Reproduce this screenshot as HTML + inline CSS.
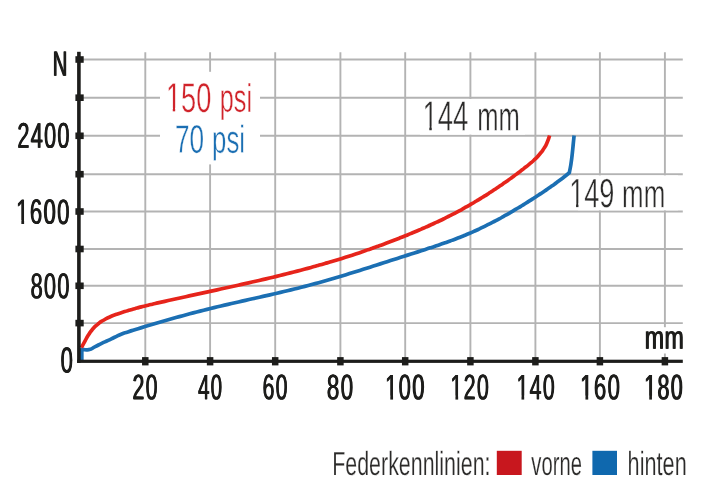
<!DOCTYPE html>
<html><head><meta charset="utf-8"><title>Federkennlinien</title>
<style>html,body{margin:0;padding:0;background:#fff}svg{display:block}text{font-family:"Liberation Sans",sans-serif;text-rendering:geometricPrecision}</style>
</head><body>
<svg width="712" height="499" viewBox="0 0 712 499">
<rect x="0" y="0" width="712" height="499" fill="#ffffff"/>
<g stroke="#b3b3b3" stroke-width="1.9" fill="none">
<line x1="145.3" y1="52.2" x2="145.3" y2="361.3"/>
<line x1="210.1" y1="52.2" x2="210.1" y2="361.3"/>
<line x1="275.2" y1="52.2" x2="275.2" y2="361.3"/>
<line x1="340.4" y1="52.2" x2="340.4" y2="361.3"/>
<line x1="405.2" y1="52.2" x2="405.2" y2="361.3"/>
<line x1="470.4" y1="52.2" x2="470.4" y2="361.3"/>
<line x1="535.4" y1="52.2" x2="535.4" y2="361.3"/>
<line x1="599.9" y1="52.2" x2="599.9" y2="361.3"/>
<line x1="664.9" y1="52.2" x2="664.9" y2="361.3"/>
<line x1="80" y1="59.5" x2="682.8" y2="59.5"/>
<line x1="80" y1="97.7" x2="682.8" y2="97.7"/>
<line x1="80" y1="135.8" x2="682.8" y2="135.8"/>
<line x1="80" y1="174.2" x2="682.8" y2="174.2"/>
<line x1="80" y1="211.5" x2="682.8" y2="211.5"/>
<line x1="80" y1="249.0" x2="682.8" y2="249.0"/>
<line x1="80" y1="285.8" x2="682.8" y2="285.8"/>
<line x1="80" y1="323.1" x2="682.8" y2="323.1"/>
</g>
<g fill="#ffffff">
<rect x="160" y="71.8" width="100" height="92.6"/>
<rect x="420" y="99" width="105" height="35.6"/>
<rect x="578" y="175.4" width="100" height="34.9"/>
<rect x="640" y="327.2" width="46" height="26.3"/>
</g>
<path d="M81.80,361.30 C81.80,357.23 81.80,353.17 81.80,349.10 C84.11,349.27 84.26,350.46 88.74,349.61 C93.22,348.77 90.93,348.63 95.24,346.56 C99.56,344.49 97.38,345.45 101.69,343.41 C106.00,341.36 103.86,342.47 108.17,340.42 C112.48,338.38 110.30,339.32 114.62,337.28 C118.95,335.24 116.73,336.10 121.15,334.31 C125.57,332.52 123.37,333.43 127.89,331.91 C132.42,330.38 130.16,331.16 134.72,329.73 C139.28,328.31 137.00,329.02 141.57,327.62 C146.14,326.23 143.86,326.92 148.43,325.55 C153.01,324.18 150.72,324.86 155.30,323.51 C159.88,322.16 157.59,322.83 162.17,321.50 C166.76,320.17 164.46,320.83 169.05,319.52 C173.65,318.22 171.35,318.86 175.95,317.59 C180.54,316.31 178.24,316.94 182.85,315.68 C187.45,314.43 185.15,315.05 189.76,313.82 C194.37,312.60 192.06,313.20 196.68,312.00 C201.30,310.81 198.99,311.40 203.62,310.23 C208.24,309.06 205.93,309.64 210.56,308.50 C215.20,307.36 212.88,307.92 217.53,306.81 C222.17,305.70 219.85,306.25 224.50,305.16 C229.15,304.07 226.83,304.61 231.49,303.54 C236.14,302.47 233.81,303.00 238.48,301.94 C243.14,300.88 240.81,301.41 245.47,300.36 C250.14,299.30 247.80,299.83 252.47,298.78 C257.13,297.73 254.80,298.26 259.47,297.21 C264.13,296.15 261.80,296.68 266.46,295.62 C271.12,294.56 268.79,295.09 273.45,294.02 C278.11,292.94 275.78,293.49 280.44,292.39 C285.09,291.30 282.76,291.85 287.41,290.74 C292.06,289.62 289.74,290.19 294.37,289.04 C299.01,287.89 296.69,288.48 301.32,287.30 C305.95,286.12 303.64,286.72 308.25,285.50 C312.87,284.28 310.56,284.90 315.17,283.64 C319.77,282.38 317.47,283.02 322.06,281.72 C326.66,280.43 324.36,281.08 328.94,279.76 C333.53,278.43 331.24,279.10 335.81,277.74 C340.39,276.39 338.10,277.07 342.67,275.69 C347.24,274.30 344.95,275.00 349.52,273.60 C354.08,272.19 351.80,272.90 356.35,271.47 C360.91,270.05 358.63,270.76 363.19,269.33 C367.74,267.89 365.46,268.61 370.02,267.16 C374.57,265.71 372.29,266.44 376.84,264.98 C381.39,263.52 379.12,264.25 383.67,262.79 C388.22,261.33 385.94,262.06 390.50,260.60 C395.05,259.14 392.77,259.87 397.33,258.41 C401.88,256.95 399.60,257.68 404.16,256.22 C408.72,254.77 406.44,255.50 411.00,254.05 C415.56,252.60 413.29,253.33 417.84,251.88 C422.40,250.42 420.13,251.16 424.68,249.68 C429.23,248.21 426.96,248.96 431.50,247.45 C436.04,245.95 433.78,246.71 438.30,245.17 C442.82,243.63 440.57,244.42 445.07,242.82 C449.57,241.22 447.33,242.04 451.80,240.38 C456.27,238.72 454.05,239.58 458.49,237.84 C462.93,236.11 460.72,237.00 465.13,235.18 C469.53,233.37 467.34,234.30 471.71,232.39 C476.07,230.48 473.90,231.45 478.22,229.45 C482.54,227.44 480.39,228.46 484.67,226.36 C488.96,224.26 486.82,225.33 491.07,223.15 C495.31,220.96 493.20,222.07 497.40,219.81 C501.61,217.55 499.51,218.70 503.68,216.36 C507.85,214.03 505.78,215.21 509.91,212.82 C514.05,210.42 511.99,211.63 516.09,209.17 C520.19,206.72 518.15,207.96 522.22,205.45 C526.29,202.94 524.26,204.20 528.31,201.65 C532.35,199.10 530.34,200.38 534.35,197.79 C538.37,195.20 536.37,196.51 540.35,193.87 C544.34,191.23 542.36,192.57 546.30,189.88 C550.24,187.19 548.29,188.55 552.18,185.79 C556.08,183.04 554.15,184.44 557.99,181.60 C561.82,178.76 559.93,180.21 563.70,177.28 C567.47,174.34 567.43,174.29 569.30,172.80 C569.65,171.04 569.71,171.05 570.35,167.53 C570.98,164.01 570.68,165.77 571.20,162.23 C571.71,158.68 571.47,160.46 571.90,156.90 C572.33,153.34 572.12,155.12 572.49,151.55 C572.87,147.98 572.68,149.77 573.03,146.20 C573.38,142.63 573.19,144.41 573.55,140.84 C573.91,137.28 573.92,137.28 574.10,135.50" fill="none" stroke="#1b6fb3" stroke-width="3.7" stroke-linejoin="round" stroke-linecap="butt"/>
<path d="M81.40,347.60 C82.54,345.51 82.50,345.52 84.83,341.35 C87.16,337.18 85.81,339.12 88.38,335.10 C90.95,331.08 89.46,332.88 92.55,329.29 C95.64,325.70 94.00,327.34 97.65,324.32 C101.30,321.30 99.43,322.68 103.49,320.23 C107.55,317.78 105.50,318.93 109.84,316.97 C114.17,315.00 112.01,315.97 116.49,314.34 C120.98,312.70 118.75,313.51 123.30,312.06 C127.85,310.61 125.57,311.32 130.15,309.98 C134.73,308.65 132.43,309.30 137.03,308.05 C141.63,306.81 139.33,307.42 143.94,306.25 C148.55,305.08 146.24,305.66 150.87,304.55 C155.50,303.44 153.18,303.99 157.82,302.92 C162.46,301.85 160.14,302.38 164.78,301.34 C169.43,300.29 167.10,300.81 171.75,299.77 C176.40,298.74 174.07,299.25 178.73,298.22 C183.38,297.20 181.05,297.71 185.71,296.69 C190.36,295.66 188.03,296.18 192.69,295.16 C197.35,294.14 195.02,294.65 199.68,293.63 C204.34,292.62 202.01,293.13 206.67,292.11 C211.33,291.10 209.00,291.61 213.66,290.59 C218.32,289.57 215.99,290.08 220.65,289.06 C225.31,288.04 222.98,288.56 227.64,287.53 C232.30,286.50 229.97,287.02 234.63,285.99 C239.29,284.95 236.96,285.47 241.61,284.43 C246.27,283.39 243.94,283.91 248.60,282.86 C253.25,281.80 250.92,282.33 255.57,281.26 C260.22,280.19 257.90,280.73 262.55,279.65 C267.19,278.56 264.87,279.11 269.51,278.00 C274.15,276.90 271.83,277.46 276.47,276.33 C281.10,275.21 278.79,275.78 283.42,274.63 C288.05,273.48 285.73,274.06 290.36,272.89 C294.98,271.72 292.67,272.31 297.28,271.11 C301.90,269.92 299.59,270.52 304.20,269.30 C308.81,268.07 306.51,268.69 311.11,267.43 C315.71,266.18 313.41,266.81 318.00,265.52 C322.59,264.23 320.30,264.89 324.87,263.56 C329.45,262.24 327.17,262.91 331.74,261.55 C336.30,260.19 334.02,260.88 338.58,259.48 C343.14,258.08 340.86,258.79 345.41,257.35 C349.95,255.90 347.68,256.63 352.22,255.15 C356.75,253.67 354.49,254.42 359.01,252.90 C363.53,251.38 361.27,252.15 365.78,250.59 C370.29,249.03 368.04,249.82 372.53,248.22 C377.03,246.62 374.78,247.43 379.26,245.79 C383.74,244.16 381.51,244.98 385.97,243.31 C390.44,241.63 388.21,242.48 392.66,240.77 C397.11,239.05 394.89,239.92 399.33,238.17 C403.76,236.42 401.55,237.30 405.97,235.51 C410.39,233.73 408.19,234.63 412.59,232.80 C416.99,230.97 414.80,231.90 419.18,230.03 C423.56,228.15 421.38,229.10 425.73,227.18 C430.09,225.25 427.92,226.23 432.25,224.25 C436.58,222.27 434.42,223.28 438.72,221.23 C443.02,219.19 440.88,220.23 445.15,218.12 C449.41,216.01 447.29,217.08 451.52,214.90 C455.75,212.72 453.64,213.83 457.84,211.58 C462.03,209.33 459.94,210.47 464.10,208.16 C468.26,205.84 466.19,207.02 470.31,204.64 C474.43,202.26 472.38,203.46 476.46,201.02 C480.55,198.57 478.52,199.81 482.56,197.30 C486.61,194.78 484.60,196.06 488.61,193.48 C492.62,190.91 490.63,192.21 494.60,189.57 C498.58,186.93 496.60,188.27 500.54,185.56 C504.48,182.86 502.52,184.23 506.42,181.47 C510.33,178.70 508.38,180.10 512.25,177.28 C516.12,174.45 514.19,175.88 518.02,173.00 C521.85,170.12 519.96,171.58 523.74,168.63 C527.52,165.68 525.70,167.22 529.36,164.14 C533.01,161.06 531.29,162.69 534.70,159.40 C538.11,156.11 536.55,157.87 539.58,154.28 C542.62,150.68 541.28,152.61 543.82,148.62 C546.36,144.63 545.28,146.68 547.21,142.30 C549.14,137.93 548.80,137.77 549.60,135.50" fill="none" stroke="#e6241b" stroke-width="3.7" stroke-linejoin="round" stroke-linecap="butt"/>
<g fill="#1d1d1b">
<rect x="77.1" y="51.8" width="3.6" height="311.1"/>
<rect x="77.1" y="359.7" width="605.7" height="3.2"/>
<rect x="75.4" y="56.2" width="8.3" height="6.6"/>
<rect x="75.4" y="94.4" width="8.3" height="6.6"/>
<rect x="75.4" y="132.5" width="8.3" height="6.6"/>
<rect x="75.4" y="170.9" width="8.3" height="6.6"/>
<rect x="75.4" y="208.2" width="8.3" height="6.6"/>
<rect x="75.4" y="245.7" width="8.3" height="6.6"/>
<rect x="75.4" y="282.5" width="8.3" height="6.6"/>
<rect x="75.4" y="319.8" width="8.3" height="6.6"/>
<rect x="142.05" y="357.1" width="6.5" height="8.3"/>
<rect x="206.85" y="357.1" width="6.5" height="8.3"/>
<rect x="271.95" y="357.1" width="6.5" height="8.3"/>
<rect x="337.15" y="357.1" width="6.5" height="8.3"/>
<rect x="401.95" y="357.1" width="6.5" height="8.3"/>
<rect x="467.15" y="357.1" width="6.5" height="8.3"/>
<rect x="532.15" y="357.1" width="6.5" height="8.3"/>
<rect x="596.65" y="357.1" width="6.5" height="8.3"/>
<rect x="661.65" y="357.1" width="6.5" height="8.3"/>
</g>
<g style="will-change:opacity" opacity="0.999">
<text transform="matrix(0.2023,0.0005,0,0.3536,52.34,75.80)" font-size="100" fill="#1d1d1b" letter-spacing="6.0">N</text>
<text transform="matrix(0.2023,0.0005,0,0.3536,52.74,75.80)" font-size="100" fill="#1d1d1b" letter-spacing="6.0">N</text>
<text transform="matrix(0.2023,0.0005,0,0.3536,53.14,75.80)" font-size="100" fill="#1d1d1b" letter-spacing="6.0">N</text>
<text transform="matrix(0.2164,0.0005,0,0.3571,17.01,147.70)" font-size="100" fill="#1d1d1b" letter-spacing="6.0">2400</text>
<text transform="matrix(0.2164,0.0005,0,0.3571,17.41,147.70)" font-size="100" fill="#1d1d1b" letter-spacing="6.0">2400</text>
<text transform="matrix(0.2164,0.0005,0,0.3571,17.81,147.70)" font-size="100" fill="#1d1d1b" letter-spacing="6.0">2400</text>
<text transform="matrix(0.2216,0.0005,0,0.3500,15.77,223.80)" font-size="100" fill="#1d1d1b" letter-spacing="6.0">1600</text>
<text transform="matrix(0.2216,0.0005,0,0.3500,16.17,223.80)" font-size="100" fill="#1d1d1b" letter-spacing="6.0">1600</text>
<text transform="matrix(0.2216,0.0005,0,0.3500,16.57,223.80)" font-size="100" fill="#1d1d1b" letter-spacing="6.0">1600</text>
<rect x="16.56" y="220.29" width="4.79" height="4.51" fill="#ffffff"/>
<rect x="24.10" y="220.29" width="4.61" height="4.51" fill="#ffffff"/>
<text transform="matrix(0.2175,0.0005,0,0.3594,30.15,298.30)" font-size="100" fill="#1d1d1b" letter-spacing="6.0">800</text>
<text transform="matrix(0.2175,0.0005,0,0.3594,30.55,298.30)" font-size="100" fill="#1d1d1b" letter-spacing="6.0">800</text>
<text transform="matrix(0.2175,0.0005,0,0.3594,30.95,298.30)" font-size="100" fill="#1d1d1b" letter-spacing="6.0">800</text>
<text transform="matrix(0.2197,0.0005,0,0.3600,60.24,372.60)" font-size="100" fill="#1d1d1b" letter-spacing="6.0">0</text>
<text transform="matrix(0.2197,0.0005,0,0.3600,60.64,372.60)" font-size="100" fill="#1d1d1b" letter-spacing="6.0">0</text>
<text transform="matrix(0.2197,0.0005,0,0.3600,61.04,372.60)" font-size="100" fill="#1d1d1b" letter-spacing="6.0">0</text>
<text transform="matrix(0.2133,0.0005,0,0.3543,132.12,399.20)" font-size="100" fill="#1d1d1b" letter-spacing="6.0">20</text>
<text transform="matrix(0.2133,0.0005,0,0.3543,132.52,399.20)" font-size="100" fill="#1d1d1b" letter-spacing="6.0">20</text>
<text transform="matrix(0.2133,0.0005,0,0.3543,132.92,399.20)" font-size="100" fill="#1d1d1b" letter-spacing="6.0">20</text>
<text transform="matrix(0.2054,0.0005,0,0.3543,197.63,399.20)" font-size="100" fill="#1d1d1b" letter-spacing="6.0">40</text>
<text transform="matrix(0.2054,0.0005,0,0.3543,198.03,399.20)" font-size="100" fill="#1d1d1b" letter-spacing="6.0">40</text>
<text transform="matrix(0.2054,0.0005,0,0.3543,198.43,399.20)" font-size="100" fill="#1d1d1b" letter-spacing="6.0">40</text>
<text transform="matrix(0.2125,0.0005,0,0.3543,262.22,399.20)" font-size="100" fill="#1d1d1b" letter-spacing="6.0">60</text>
<text transform="matrix(0.2125,0.0005,0,0.3543,262.62,399.20)" font-size="100" fill="#1d1d1b" letter-spacing="6.0">60</text>
<text transform="matrix(0.2125,0.0005,0,0.3543,263.02,399.20)" font-size="100" fill="#1d1d1b" letter-spacing="6.0">60</text>
<text transform="matrix(0.2248,0.0005,0,0.3537,326.42,399.20)" font-size="100" fill="#1d1d1b" letter-spacing="6.0">80</text>
<text transform="matrix(0.2248,0.0005,0,0.3537,326.82,399.20)" font-size="100" fill="#1d1d1b" letter-spacing="6.0">80</text>
<text transform="matrix(0.2248,0.0005,0,0.3537,327.22,399.20)" font-size="100" fill="#1d1d1b" letter-spacing="6.0">80</text>
<text transform="matrix(0.2196,0.0005,0,0.3543,384.79,399.20)" font-size="100" fill="#1d1d1b" letter-spacing="6.0">100</text>
<text transform="matrix(0.2196,0.0005,0,0.3543,385.19,399.20)" font-size="100" fill="#1d1d1b" letter-spacing="6.0">100</text>
<text transform="matrix(0.2196,0.0005,0,0.3543,385.59,399.20)" font-size="100" fill="#1d1d1b" letter-spacing="6.0">100</text>
<rect x="385.56" y="395.65" width="4.75" height="4.55" fill="#ffffff"/>
<rect x="393.05" y="395.65" width="4.58" height="4.55" fill="#ffffff"/>
<text transform="matrix(0.2153,0.0005,0,0.3543,450.03,399.20)" font-size="100" fill="#1d1d1b" letter-spacing="6.0">120</text>
<text transform="matrix(0.2153,0.0005,0,0.3543,450.43,399.20)" font-size="100" fill="#1d1d1b" letter-spacing="6.0">120</text>
<text transform="matrix(0.2153,0.0005,0,0.3543,450.83,399.20)" font-size="100" fill="#1d1d1b" letter-spacing="6.0">120</text>
<rect x="450.77" y="395.65" width="4.67" height="4.55" fill="#ffffff"/>
<rect x="458.15" y="395.65" width="4.51" height="4.55" fill="#ffffff"/>
<text transform="matrix(0.2129,0.0005,0,0.3543,516.15,399.20)" font-size="100" fill="#1d1d1b" letter-spacing="6.0">140</text>
<text transform="matrix(0.2129,0.0005,0,0.3543,516.55,399.20)" font-size="100" fill="#1d1d1b" letter-spacing="6.0">140</text>
<text transform="matrix(0.2129,0.0005,0,0.3543,516.95,399.20)" font-size="100" fill="#1d1d1b" letter-spacing="6.0">140</text>
<rect x="516.87" y="395.65" width="4.63" height="4.55" fill="#ffffff"/>
<rect x="524.19" y="395.65" width="4.47" height="4.55" fill="#ffffff"/>
<text transform="matrix(0.2220,0.0005,0,0.3543,579.86,399.20)" font-size="100" fill="#1d1d1b" letter-spacing="6.0">160</text>
<text transform="matrix(0.2220,0.0005,0,0.3543,580.26,399.20)" font-size="100" fill="#1d1d1b" letter-spacing="6.0">160</text>
<text transform="matrix(0.2220,0.0005,0,0.3543,580.66,399.20)" font-size="100" fill="#1d1d1b" letter-spacing="6.0">160</text>
<rect x="580.66" y="395.65" width="4.79" height="4.55" fill="#ffffff"/>
<rect x="588.21" y="395.65" width="4.62" height="4.55" fill="#ffffff"/>
<text transform="matrix(0.2153,0.0005,0,0.3537,643.83,399.20)" font-size="100" fill="#1d1d1b" letter-spacing="6.0">180</text>
<text transform="matrix(0.2153,0.0005,0,0.3537,644.23,399.20)" font-size="100" fill="#1d1d1b" letter-spacing="6.0">180</text>
<text transform="matrix(0.2153,0.0005,0,0.3537,644.63,399.20)" font-size="100" fill="#1d1d1b" letter-spacing="6.0">180</text>
<rect x="644.57" y="395.66" width="4.67" height="4.54" fill="#ffffff"/>
<rect x="651.95" y="395.66" width="4.51" height="4.54" fill="#ffffff"/>
<text transform="matrix(0.2312,0.0005,0,0.3278,644.36,348.70)" font-size="100" fill="#1d1d1b" letter-spacing="2.0">mm</text>
<text transform="matrix(0.2312,0.0005,0,0.3278,644.76,348.70)" font-size="100" fill="#1d1d1b" letter-spacing="2.0">mm</text>
<text transform="matrix(0.2312,0.0005,0,0.3278,645.16,348.70)" font-size="100" fill="#1d1d1b" letter-spacing="2.0">mm</text>
<text transform="matrix(0.2721,0.0005,0,0.4157,165.92,111.85)" font-size="100" fill="#d0232a" stroke="#ffffff" stroke-width="1.2">150</text>
<rect x="167.09" y="107.84" width="5.67" height="5.01" fill="#ffffff"/>
<rect x="175.17" y="107.84" width="5.46" height="5.01" fill="#ffffff"/>
<text transform="matrix(0.2521,0.0005,0,0.4011,219.82,111.84)" font-size="100" fill="#d0232a" stroke="#ffffff" stroke-width="1.2">psi</text>
<text transform="matrix(0.2614,0.0005,0,0.3983,174.90,152.64)" font-size="100" fill="#1b6fb3" stroke="#ffffff" stroke-width="1.2">70</text>
<text transform="matrix(0.2583,0.0005,0,0.3899,212.07,152.63)" font-size="100" fill="#1b6fb3" stroke="#ffffff" stroke-width="1.2">psi</text>
<text transform="matrix(0.2756,0.0005,0,0.4233,422.38,130.45)" font-size="100" fill="#2b2a29" stroke="#ffffff" stroke-width="1.2">144</text>
<rect x="423.58" y="126.39" width="5.73" height="5.06" fill="#ffffff"/>
<rect x="431.75" y="126.39" width="5.52" height="5.06" fill="#ffffff"/>
<text transform="matrix(0.2558,0.0005,0,0.4072,477.24,130.44)" font-size="100" fill="#2b2a29" stroke="#ffffff" stroke-width="1.2">mm</text>
<text transform="matrix(0.2710,0.0005,0,0.4099,569.23,207.25)" font-size="100" fill="#2b2a29" stroke="#ffffff" stroke-width="1.2">149</text>
<rect x="570.40" y="203.28" width="5.65" height="4.96" fill="#ffffff"/>
<rect x="578.44" y="203.28" width="5.44" height="4.96" fill="#ffffff"/>
<text transform="matrix(0.2584,0.0005,0,0.3977,622.12,207.24)" font-size="100" fill="#2b2a29" stroke="#ffffff" stroke-width="1.2">mm</text>
<text transform="matrix(0.2142,0,0,0.3343,332.17,475.12)" font-size="100" fill="#2b2a29" stroke="#ffffff" stroke-width="0.7">Federkennlinien:</text>
<rect x="496.8" y="450.8" width="24.9" height="24.2" fill="#c8171e"/>
<text transform="matrix(0.2024,0,0,0.3358,531.34,475.02)" font-size="100" fill="#2b2a29" stroke="#ffffff" stroke-width="0.7">vorne</text>
<rect x="592.4" y="450.8" width="24.6" height="24.2" fill="#0f68ae"/>
<text transform="matrix(0.2171,0,0,0.3357,627.62,475.02)" font-size="100" fill="#2b2a29" stroke="#ffffff" stroke-width="0.7">hinten</text>
</g>
</svg>
</body></html>
